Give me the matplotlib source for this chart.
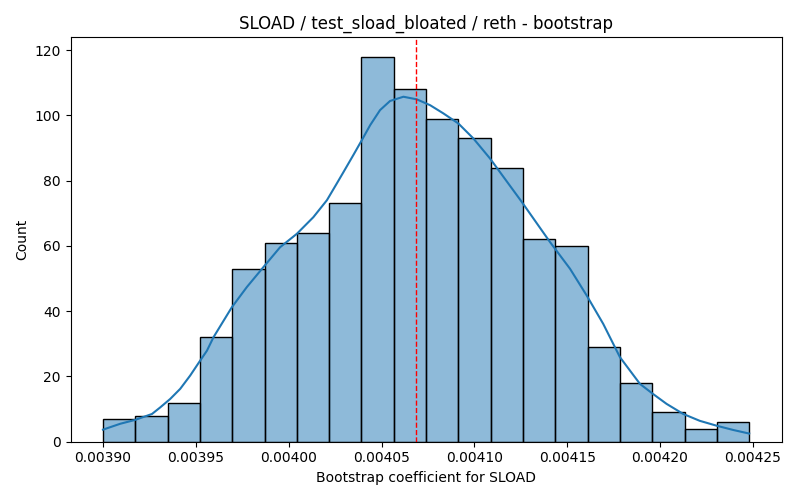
import numpy as np
import matplotlib
matplotlib.use("Agg")
import matplotlib.pyplot as plt

# histogram: 20 bins between min and max of the bootstrap sample
x_min, x_max = 0.003900, 0.004248
counts = [7, 8, 12, 32, 53, 61, 64, 73, 118, 108, 99, 93, 84, 62, 60, 29, 18, 9, 4, 6]

# kde curve (scaled to counts)
kde_x = [0.0039000, 0.0039093, 0.0039174, 0.0039264, 0.0039308, 0.0039362, 0.0039416,
         0.0039470, 0.0039524, 0.0039560, 0.0039595, 0.0039694, 0.0039775, 0.0039864,
         0.0039954, 0.0040044, 0.0040133, 0.0040206, 0.0040259, 0.0040295, 0.0040349,
         0.0040394, 0.0040439, 0.0040492, 0.0040546, 0.0040618, 0.0040690, 0.0040762,
         0.0040833, 0.0040914, 0.0040995, 0.0041084, 0.0041255, 0.0041407, 0.0041515,
         0.0041605, 0.0041694, 0.0041784, 0.0041892, 0.0041963, 0.0042035, 0.0042125,
         0.0042214, 0.0042305, 0.0042394, 0.0042480]
kde_y = [3.7, 5.5, 6.7, 8.5, 10.5, 13.1, 16.2,
         20.3, 24.9, 27.9, 32.0, 41.2, 47.4, 53.5,
         59.6, 63.7, 68.8, 74.0, 79.1, 82.6, 87.9,
         92.4, 97.0, 101.6, 104.4, 105.7, 104.9, 103.1,
         100.6, 97.5, 92.9, 86.8, 73.5, 61.2, 53.0,
         44.8, 36.1, 25.9, 17.7, 14.6, 11.6, 8.5,
         6.4, 4.9, 3.6, 2.5]

point_estimate = 0.0040688

edges = np.linspace(x_min, x_max, len(counts) + 1)

fig, ax = plt.subplots(figsize=(8, 5), dpi=100)
ax.bar(edges[:-1], counts, width=np.diff(edges), align="edge",
       facecolor=(31/255, 119/255, 180/255, 0.5), edgecolor="black", linewidth=1)
ax.plot(kde_x, kde_y, color="#1f77b4", lw=1.5, solid_joinstyle="round")
ax.axvline(point_estimate, color="red", ls="--", lw=1)

ax.set_title("SLOAD / test_sload_bloated / reth - bootstrap")
ax.set_xlabel("Bootstrap coefficient for SLOAD")
ax.set_ylabel("Count")
ax.set_xticks([0.00390, 0.00395, 0.00400, 0.00405, 0.00410, 0.00415, 0.00420, 0.00425])
ax.set_xticklabels(["0.00390", "0.00395", "0.00400", "0.00405", "0.00410",
                    "0.00415", "0.00420", "0.00425"])

fig.tight_layout()
fig.savefig("out.png")
